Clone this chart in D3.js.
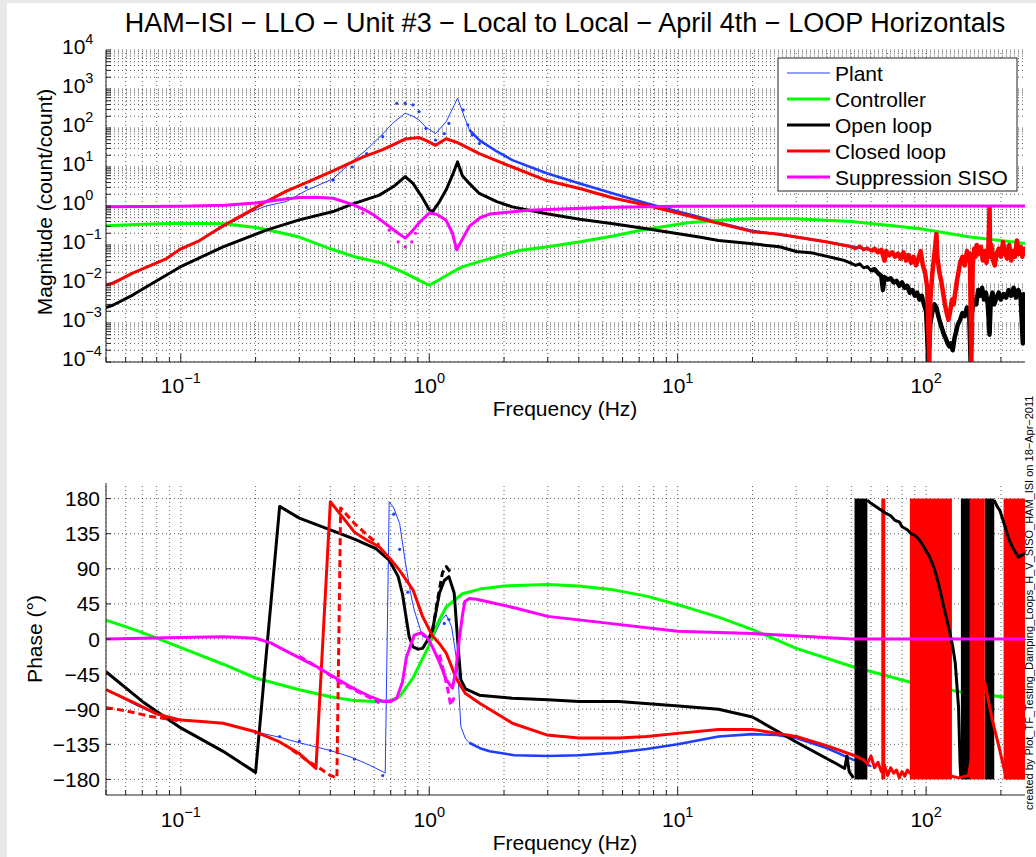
<!DOCTYPE html>
<html>
<head>
<meta charset="utf-8">
<script src="https://cdn.jsdelivr.net/npm/d3@7"></script>
<style>
  body { margin: 0; background: #fff; }
  text { font-family: "Liberation Sans", Arial, sans-serif; fill: #000; }
</style>
</head>
<body>
<svg id="chart" width="1036" height="857"></svg>
<script>
// ---- data (frequency in Hz, magnitude in count/count, phase in degrees)
const seriesNames = ["Plant", "Controller", "Open loop", "Closed loop", "Suppression SISO"];
const freqMajor = [0.1, 1, 10, 100];
const magDecades = [-4, -3, -2, -1, 0, 1, 2, 3, 4];
const phaseTicks = [-180, -135, -90, -45, 0, 45, 90, 135, 180];

const plantMag = [[0.05,0.0095],[0.064,0.019],[0.088,0.045],[0.1,0.075],[0.12,0.13],[0.15,0.3],[0.19,0.68],[0.22,1.0],[0.266,1.3],[0.32,2.5],[0.41,5.0],[0.49,14],[0.56,28],[0.65,70],[0.71,130],[0.8,240],[0.86,200],[0.91,160],[0.97,105],[1.06,72],[1.17,145],[1.3,580],[1.4,160],[1.45,90],[1.59,49],[1.87,25],[2.16,15],[2.97,6.9],[4.03,3.8],[5.5,2.1],[7.5,1.17],[12.2,0.52],[14.6,0.38],[20,0.23],[30,0.16],[40,0.12],[51,0.09],[60,0.075]];
const plantMagDots = [[0.27,1.6],[0.32,3.0],[0.41,4.6],[0.49,10],[0.56,22],[0.65,60],[0.74,430],[0.8,430],[0.86,390],[0.91,263],[0.97,98],[1.06,49],[1.15,72],[1.2,131],[1.37,290],[1.43,120],[1.49,66],[1.59,40]];

const controllerMag = [[0.05,0.31],[0.07,0.34],[0.1,0.36],[0.15,0.35],[0.2,0.28],[0.25,0.21],[0.3,0.16],[0.4,0.08],[0.5,0.05],[0.65,0.034],[0.8,0.019],[0.92,0.012],[1.0,0.0093],[1.1,0.013],[1.2,0.018],[1.35,0.027],[1.6,0.038],[2.05,0.059],[2.3,0.072],[3,0.09],[4,0.12],[5.5,0.17],[7.1,0.24],[11,0.37],[15,0.44],[20,0.47],[30,0.47],[50,0.4],[70,0.32],[95,0.26],[150,0.16],[250,0.11]];

const openMag = [[0.05,0.0025],[0.0535,0.0029],[0.064,0.0052],[0.099,0.027],[0.148,0.09],[0.221,0.24],[0.3,0.44],[0.41,0.72],[0.49,1.12],[0.63,1.9],[0.72,3.2],[0.8,5.7],[0.86,3.8],[0.93,1.8],[1.0,0.8],[1.03,0.71],[1.1,1.3],[1.17,2.6],[1.25,7],[1.3,13.5],[1.36,6],[1.45,3.8],[1.59,2.1],[1.87,1.3],[2.16,0.95],[2.97,0.63],[4.03,0.46],[5.5,0.35],[7.5,0.26],[12.2,0.16],[14.6,0.13],[20,0.107],[25.7,0.09],[30,0.068],[35,0.062],[47,0.04],
  [50,0.034],[52,0.03],[54,0.033],[56,0.026],[58,0.028],[60,0.022],[62,0.024],[64,0.019],[66,0.016],[67,0.007],[68,0.015],[70,0.013],[72,0.014],[74,0.011],[76,0.012],[78,0.009],[80,0.011],[82,0.008],[84,0.009],[86,0.006],[88,0.007],[90,0.005],[92,0.006],[94,0.004],[96,0.005],[98,0.003],[100,0.002],[102,0.0001],[104,0.001],[106,0.002],[108,0.003],[110,0.0025],[112,0.0015],[114,0.001],[116,0.0007],[118,0.0005],[120,0.0004],[122,0.0003],[124,0.00025],[126,0.0003],[128,0.0002],[130,0.0004],[132,0.0006],[134,0.0009],[137,0.0012],[140,0.0018],[143,0.0015],[146,0.0025],[149,0.002],[151,0.0001],[153,0.002],[156,0.004],[159,0.003],[162,0.007],[165,0.005],[168,0.008],[171,0.004],[174,0.006],[177,0.003],[180,0.0005],[182,0.004],[185,0.006],[188,0.003],[192,0.0045],[196,0.006],[200,0.004],[205,0.0055],[210,0.0045],[215,0.007],[220,0.005],[225,0.008],[230,0.0045],[235,0.007],[240,0.005],[245,0.0003],[247,0.005],[250,0.006]];

const closedMag = [[0.05,0.0095],[0.0535,0.0105],[0.064,0.019],[0.0876,0.045],[0.1,0.08],[0.119,0.13],[0.148,0.31],[0.19,0.75],[0.221,1.3],[0.266,2.4],[0.32,4.0],[0.41,8.0],[0.54,18],[0.65,28],[0.8,52],[0.91,57],[0.97,48],[1.06,36],[1.17,53],[1.3,42],[1.59,22],[2.16,10],[2.97,4.5],[4.03,2.8],[5.5,1.6],[7.5,1.05],[12.2,0.48],[14.6,0.36],[20,0.22],[25.7,0.19],[30,0.16],[40,0.12],
  [50,0.09],[52,0.08],[54,0.095],[56,0.075],[58,0.085],[60,0.07],[62,0.08],[64,0.065],[66,0.075],[68,0.04],[69,0.07],[71,0.055],[73,0.065],[75,0.05],[77,0.06],[79,0.045],[81,0.065],[83,0.04],[85,0.055],[87,0.035],[89,0.05],[91,0.03],[93,0.045],[95,0.07],[97,0.03],[99,0.02],[101,0.008],[103,0.0001],[104,0.004],[106,0.02],[108,0.06],[110,0.19],[111,0.05],[113,0.02],[115,0.012],[117,0.006],[119,0.003],[121,0.0018],[123,0.0012],[125,0.002],[127,0.004],[129,0.003],[131,0.006],[133,0.012],[135,0.02],[137,0.035],[140,0.05],[143,0.03],[146,0.07],[148,0.04],[150,0.06],[152,0.0001],[154,0.03],[156,0.08],[158,0.05],[160,0.1],[163,0.06],[166,0.09],[169,0.04],[172,0.07],[175,0.035],[178,0.08],[180,0.9],[181,0.05],[183,0.1],[186,0.04],[189,0.03],[192,0.06],[196,0.08],[200,0.05],[204,0.12],[208,0.06],[212,0.045],[216,0.1],[220,0.04],[224,0.07],[228,0.05],[232,0.13],[236,0.06],[240,0.09],[244,0.05],[248,0.08],[250,0.06]];

const suppressionMag = [[0.05,0.96],[0.1,0.98],[0.15,1.05],[0.2,1.2],[0.25,1.45],[0.3,1.65],[0.35,1.68],[0.41,1.58],[0.49,1.1],[0.55,0.8],[0.6,0.58],[0.69,0.3],[0.75,0.2],[0.8,0.15],[0.85,0.22],[0.92,0.4],[1.0,0.66],[1.08,0.6],[1.17,0.43],[1.24,0.2],[1.29,0.075],[1.35,0.13],[1.45,0.3],[1.6,0.5],[1.75,0.62],[2.5,0.78],[5,0.92],[10,0.99],[30,1.0],[250,1.0]];
const suppressionMagDots = [[0.54,0.66],[0.69,0.24],[0.75,0.12],[0.8,0.09],[0.85,0.12],[0.88,0.2]];

const plantPhase = [[0.05,-65],[0.065,-84],[0.08,-97],[0.1,-104],[0.125,-106],[0.15,-108],[0.2,-119],[0.25,-126],[0.3,-133],[0.4,-143],[0.48,-151],[0.56,-160],[0.65,-170],[0.665,-172],[0.69,176],[0.72,168],[0.76,148],[0.8,100],[0.84,60],[0.87,37],[0.94,3],[1.03,-1],[1.08,14],[1.12,24],[1.17,31],[1.23,16],[1.3,-35],[1.34,-112],[1.4,-128],[1.45,-133],[1.6,-140],[1.75,-144],[2.2,-149],[3,-150],[4,-149],[5.5,-146],[7.5,-141],[10,-135],[14.6,-125],[20,-122],[25,-123],[30,-127],[40,-140],[51,-155],[60,-163]];
const plantPhaseDots = [[0.2,-120],[0.25,-125],[0.3,-131],[0.4,-143],[0.5,-154],[0.65,-175],[0.72,160],[0.76,115],[0.82,60],[1.15,20],[1.2,25]];

const controllerPhase = [[0.05,24],[0.065,12],[0.08,1],[0.1,-11],[0.15,-33],[0.2,-50],[0.3,-65],[0.4,-74],[0.5,-79],[0.6,-80],[0.7,-79],[0.76,-74],[0.86,-50],[0.93,-28],[1.0,-8],[1.08,20],[1.17,41],[1.36,58],[1.6,64],[2,68],[3,70],[4,68],[5.5,63],[7.5,55],[10,44],[14.6,28],[20,12],[30,-12],[50,-35],[95,-59],[150,-70],[250,-77]];

const openPhase = [[0.05,-42],[0.07,-80],[0.1,-114],[0.148,-144],[0.2,-171],[0.25,170],[0.3,155],[0.4,140],[0.5,128],[0.61,116],[0.69,101],[0.75,80],[0.78,58],[0.83,3],[0.86,-10],[0.9,-13],[0.94,-12],[1.0,2],[1.03,11],[1.1,59],[1.15,75],[1.2,80],[1.26,59],[1.3,0],[1.34,-52],[1.4,-64],[1.59,-72],[2.16,-76],[3,-78],[4,-80],[5.8,-80],[10.1,-86],[14.6,-90],[20,-100],[30,-132],[43,-159],[47,-166],[48,-150],[49,-170],[51,-178]];
const openPhaseHigh = [[58,178],[60,174],[64,168],[69,161],[72,158],[75,152],[78,150],[80,144],[84,140],[87,135],[90,133],[94,127],[98,118],[103,106],[108,90],[113,67],[118,40],[124,11],[128,-10],[131,-31],[135,-87],[137,-160],[138,-178]];
const openPhaseTop = [[188,178],[193,170],[198,165],[205,150],[216,127],[225,115],[235,105],[250,110]];
const openPhaseBands = [[51.5,58],[138,150],[172,188]];
const openPhaseModel = [[1.03,10],[1.08,50],[1.13,85],[1.17,93],[1.22,85]];

const closedPhase = [[0.05,-65],[0.065,-82],[0.08,-96],[0.1,-104],[0.125,-106],[0.148,-108],[0.2,-119],[0.25,-132],[0.3,-147],[0.35,-166],[0.4,176],[0.5,137],[0.56,127],[0.63,118],[0.7,102],[0.76,88],[0.86,63],[0.94,29],[1.03,4],[1.1,-6],[1.17,-18],[1.29,-52],[1.4,-70],[1.59,-82],[2.16,-108],[2.97,-123],[4,-127],[5.8,-127],[7.5,-125],[10,-121],[14.6,-116],[20,-116],[30,-125],[40,-137],[51,-149],[56,-155],[58,-160],[60,-150],[62,-165],[64,-158],[66,-170],[68,-162],[70,-175],[72,-165],[74,-172],[76,-168],[78,-178],[80,-170],[82,-176],[84,-168],[86,-172],[127,-176],[135,-178],[148,-175],[172,-55],[185,-105],[197,-140],[210,-178],[250,-178]];
const closedPhaseBands = [[66,68.5],[86,127],[150,172],[205,250]];
const closedPhaseModelLow = [[0.05,-88],[0.06,-92],[0.075,-99],[0.09,-103],[0.1,-105]];
const closedPhaseModelMid = [[0.28,-142],[0.32,-155],[0.36,-165],[0.4,-175],[0.425,-178],[0.44,168],[0.5,148],[0.56,134],[0.63,120]];

const suppressionPhase = [[0.05,0],[0.1,2],[0.15,3],[0.2,1],[0.23,-5],[0.26,-14],[0.35,-35],[0.48,-61],[0.58,-74],[0.65,-80],[0.7,-80],[0.74,-76],[0.78,-55],[0.81,-23],[0.87,5],[0.93,8],[0.98,2],[1.03,-10],[1.1,-30],[1.17,-52],[1.24,-63],[1.28,-40],[1.32,-1],[1.36,30],[1.39,48],[1.45,52],[1.55,51],[2.2,40],[3,29],[5,21],[10,10],[20,7],[50,0],[250,0]];
const suppressionPhaseModel = [[0.3,-22],[0.38,-42],[0.45,-58],[0.55,-72],[0.63,-82]];
const suppressionPhaseModel2 = [[1.1,-20],[1.18,-60],[1.22,-85],[1.26,-75]];

// ---- layout
const svg = d3.select('#chart');
const colors = { plant: "#1f3dff", controller: "#00ff00", open: "#000000", closed: "#ff0000", supp: "#ff00ff" };
const legendColors = [colors.plant, colors.controller, colors.open, colors.closed, colors.supp];
const legendWidths = [1, 3, 3, 3, 3];
const labelSize = "21px", expSize = "14.5px";

const x = d3.scaleLog().domain([0.05, 250]).range([106, 1025]);
const yMag = d3.scaleLog().domain([1e-4, 1e4]).range([362, 50]);
const yPh = d3.scaleLinear().domain([-200, 200]).range([795, 483]);

// window frame strip
svg.append("rect").attr("x", 0).attr("y", 0).attr("width", 7).attr("height", 857).attr("fill", "#e9e9e9");
svg.append("rect").attr("x", 0).attr("y", 0).attr("width", 1036).attr("height", 3).attr("fill", "#e9e9e9");

const defs = svg.append("defs");
defs.append("clipPath").attr("id", "clipMag").append("rect")
    .attr("x", 106).attr("y", 50).attr("width", 919).attr("height", 312);
defs.append("clipPath").attr("id", "clipPh").append("rect")
    .attr("x", 106).attr("y", 483).attr("width", 919).attr("height", 312);

const xTicks = x.ticks();
const isMajor = v => Math.abs(Math.log10(v) - Math.round(Math.log10(v))) < 1e-9;

function drawGrid(g, yScale, yVals) {
    const [y0, y1] = yScale.range();
    g.selectAll(".vgrid").data(xTicks).join("line").attr("class", "vgrid")
        .attr("x1", d => x(d)).attr("x2", d => x(d))
        .attr("y1", y0).attr("y2", y1);
    g.selectAll(".hgrid").data(yVals).join("line").attr("class", "hgrid")
        .attr("x1", 106).attr("x2", 1025)
        .attr("y1", d => yScale(d)).attr("y2", d => yScale(d));
    g.selectAll("line")
        .attr("stroke", "#000").attr("stroke-width", 0.8)
        .attr("stroke-dasharray", "1,3").attr("opacity", 0.8);
}

function drawAxes(g, yScale, yVals, labelY) {
    const [y0, y1] = yScale.range();
    g.append("line").attr("x1", 106).attr("x2", 1025).attr("y1", y0).attr("y2", y0)
        .attr("stroke", "#222").attr("stroke-width", 1);
    g.append("line").attr("x1", 106).attr("x2", 106).attr("y1", y0).attr("y2", y1)
        .attr("stroke", "#222").attr("stroke-width", 1);
    g.selectAll(".xt").data(xTicks).join("line").attr("class", "xt")
        .attr("x1", d => x(d)).attr("x2", d => x(d))
        .attr("y1", y0).attr("y2", d => y0 - (isMajor(d) ? 8 : 5))
        .attr("stroke", "#222");
    g.selectAll(".yt").data(yVals).join("line").attr("class", "yt")
        .attr("x1", 106).attr("x2", 111)
        .attr("y1", d => yScale(d)).attr("y2", d => yScale(d))
        .attr("stroke", "#222");
    // frequency tick labels 10^n
    const lbl = g.selectAll(".xl").data(freqMajor).join("text").attr("class", "xl")
        .attr("x", d => x(d)).attr("y", labelY)
        .attr("text-anchor", "middle").style("font-size", labelSize);
    lbl.append("tspan").text("10");
    lbl.append("tspan").attr("dy", -10).style("font-size", expSize)
        .text(d => String(Math.round(Math.log10(d))).replace("-", "\u2212"));
    g.append("text").attr("x", 565).attr("y", labelY + 23)
        .attr("text-anchor", "middle").style("font-size", labelSize).text("Frequency (Hz)");
}

function series(g, data, line, color, width, dash) {
    g.append("path").datum(data)
        .attr("d", line)
        .attr("fill", "none")
        .attr("stroke", color)
        .attr("stroke-width", width)
        .attr("stroke-linejoin", "round")
        .attr("stroke-dasharray", dash || null);
}

function dots(g, data, yf, color) {
    g.append("g").selectAll("circle").data(data).join("circle")
        .attr("cx", d => x(d[0])).attr("cy", d => yf(d[1]))
        .attr("r", 1.6).attr("fill", color);
}

// ---- title
svg.append("text").attr("x", 565).attr("y", 32).attr("text-anchor", "middle")
    .style("font-size", "27px")
    .text("HAM\u2212ISI \u2212 LLO \u2212 Unit #3 \u2212 Local to Local \u2212 April 4th \u2212 LOOP Horizontals");

// ---- magnitude panel
const magTicks = yMag.ticks();
const magPanel = svg.append("g");
drawGrid(magPanel.append("g"), yMag, magTicks);

const magLine = d3.line().x(d => x(d[0])).y(d => yMag(Math.max(d[1], 1e-4)));
const magPlot = magPanel.append("g").attr("clip-path", "url(#clipMag)");
series(magPlot, plantMag, magLine, colors.plant, 1);
series(magPlot, plantMag.filter(d => d[0] >= 1.45), magLine, colors.plant, 2.6);
dots(magPlot, plantMagDots, yMag, colors.plant);
series(magPlot, controllerMag, magLine, colors.controller, 3);
series(magPlot, openMag, magLine, colors.open, 3);
series(magPlot, openMag.filter(d => d[0] >= 60), magLine, colors.open, 4.5);
series(magPlot, closedMag, magLine, colors.closed, 3);
series(magPlot, closedMag.filter(d => d[0] >= 60), magLine, colors.closed, 4.5);
series(magPlot, suppressionMag, magLine, colors.supp, 3);
dots(magPlot, suppressionMagDots, yMag, colors.supp);

drawAxes(magPanel, yMag, magTicks, 393);

const magLbl = magPanel.selectAll(".ml").data(magDecades).join("text").attr("class", "ml")
    .attr("x", 62).attr("y", d => yMag(Math.pow(10, d)) + 4)
    .style("font-size", labelSize);
magLbl.append("tspan").text("10");
magLbl.append("tspan").attr("dy", -10).style("font-size", expSize)
    .text(d => String(d).replace("-", "\u2212"));

magPanel.append("text")
    .attr("transform", "translate(52,202) rotate(-90)")
    .attr("text-anchor", "middle").style("font-size", labelSize)
    .text("Magnitude (count/count)");

// legend
const leg = magPanel.append("g");
leg.append("rect").attr("x", 778).attr("y", 58).attr("width", 239).attr("height", 133)
    .attr("fill", "#fff").attr("stroke", "#222").attr("stroke-width", 1);
const legItems = leg.selectAll(".li").data(seriesNames).join("g").attr("class", "li")
    .attr("transform", (d, i) => `translate(0,${73 + i * 26})`);
legItems.append("line").attr("x1", 787).attr("x2", 830).attr("y1", 0).attr("y2", 0)
    .attr("stroke", (d, i) => legendColors[i]).attr("stroke-width", (d, i) => legendWidths[i]);
legItems.append("text").attr("x", 835).attr("y", 7.5).style("font-size", labelSize).text(d => d);

// ---- phase panel
const phPanel = svg.append("g");
drawGrid(phPanel.append("g"), yPh, phaseTicks);

const phLine = d3.line().x(d => x(d[0])).y(d => yPh(d[1]));
const phPlot = phPanel.append("g").attr("clip-path", "url(#clipPh)");

function bands(g, data, color) {
    g.append("g").selectAll("rect").data(data).join("rect")
        .attr("x", d => x(d[0])).attr("width", d => x(d[1]) - x(d[0]))
        .attr("y", yPh(180)).attr("height", yPh(-180) - yPh(180))
        .attr("fill", color);
}

series(phPlot, plantPhase, phLine, colors.plant, 1);
series(phPlot, plantPhase.filter(d => d[0] >= 1.45), phLine, colors.plant, 2.6);
dots(phPlot, plantPhaseDots, yPh, colors.plant);
series(phPlot, controllerPhase, phLine, colors.controller, 3);
series(phPlot, openPhase, phLine, colors.open, 3);
bands(phPlot, openPhaseBands, colors.open);
series(phPlot, openPhaseModel, phLine, colors.open, 3, "7,4");
bands(phPlot, closedPhaseBands, colors.closed);
series(phPlot, openPhaseHigh, phLine, colors.open, 3);
series(phPlot, openPhaseTop, phLine, colors.open, 3);
series(phPlot, closedPhase, phLine, colors.closed, 3);
series(phPlot, closedPhaseModelLow, phLine, colors.closed, 3, "7,4");
series(phPlot, closedPhaseModelMid, phLine, colors.closed, 3, "7,4");
series(phPlot, suppressionPhase, phLine, colors.supp, 3);
series(phPlot, suppressionPhaseModel, phLine, colors.supp, 3, "7,4");
series(phPlot, suppressionPhaseModel2, phLine, colors.supp, 3, "7,4");

drawAxes(phPanel, yPh, phaseTicks, 827);

phPanel.selectAll(".pl").data(phaseTicks).join("text").attr("class", "pl")
    .attr("x", 100).attr("y", d => yPh(d) + 7.5)
    .attr("text-anchor", "end").style("font-size", labelSize)
    .text(d => String(d).replace("-", "\u2212"));

phPanel.append("text")
    .attr("transform", "translate(42,639) rotate(-90)")
    .attr("text-anchor", "middle").style("font-size", labelSize)
    .text("Phase (\u00b0)");

// ---- creator stamp on the right edge
svg.append("text")
    .attr("transform", "translate(1033,810) rotate(-90)")
    .style("font-size", "11px")
    .text("created by Plot_TF_Testing_Damping_Loops_H_V_SISO_HAM_ISI on 18\u2212Apr\u22122011");
</script>
</body>
</html>
